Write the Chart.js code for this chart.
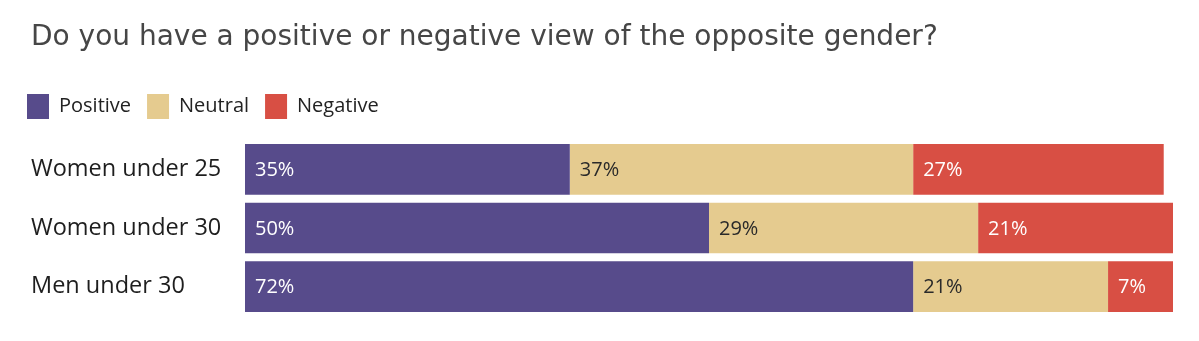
<!DOCTYPE html>
<html>
<head>
<meta charset="utf-8">
<script src="https://cdn.jsdelivr.net/npm/chart.js@4"></script>
<style>
  html, body { margin: 0; padding: 0; background: #fff; }
  #wrap { width: 1199px; height: 341px; position: relative; }
</style>
</head>
<body>
<div id="wrap"><canvas id="chart" width="1199" height="341"></canvas></div>
<script>
const groups = ["Women under 25", "Women under 30", "Men under 30"];
const positive = [35, 50, 72];
const neutral = [37, 29, 21];
const negative = [27, 21, 7];

const FONT = "'Open Sans', 'Noto Sans', sans-serif";

// percentage text at the left end of each segment
const segmentLabels = {
  id: "segmentLabels",
  afterDatasetsDraw(chart) {
    const ctx = chart.ctx;
    ctx.save();
    ctx.font = "20px " + FONT;
    ctx.textBaseline = "middle";
    ctx.textAlign = "left";
    chart.data.datasets.forEach((ds, i) => {
      const meta = chart.getDatasetMeta(i);
      meta.data.forEach((bar, j) => {
        ctx.fillStyle = ds.labelColor;
        ctx.fillText(ds.data[j] + "%", bar.base + 10, bar.y + 1);
      });
    });
    ctx.restore();
  }
};

// legend sits a bit left of the axis labels in the original
const legendNudge = {
  id: "legendNudge",
  afterLayout(chart) {
    chart.legend.left -= 20;
    chart.legend.right -= 20;
  }
};

new Chart(document.getElementById("chart"), {
  type: "bar",
  data: {
    labels: groups,
    datasets: [
      { label: "Positive", data: positive, backgroundColor: "#574b8b", labelColor: "#ffffff" },
      { label: "Neutral", data: neutral, backgroundColor: "#e5cb8f", labelColor: "#2a2a2a" },
      { label: "Negative", data: negative, backgroundColor: "#d84f44", labelColor: "#ffffff" }
    ]
  },
  options: {
    indexAxis: "y",
    responsive: false,
    animation: false,
    barPercentage: 0.865,
    categoryPercentage: 1,
    layout: { padding: { left: 31, right: 26, bottom: 25, top: 0 } },
    plugins: {
      title: {
        display: true,
        text: "Do you have a positive or negative view of the opposite gender?",
        align: "start",
        color: "#464646",
        font: { family: "'DejaVu Sans', sans-serif", size: 28, weight: "normal", lineHeight: 1.2 },
        padding: { top: 21, bottom: 23.4 }
      },
      legend: {
        position: "top",
        align: "start",
        labels: {
          boxWidth: 22,
          boxHeight: 25,
          padding: 16,
          color: "#222",
          font: { family: FONT, size: 20 }
        }
      },
      tooltip: { enabled: false }
    },
    scales: {
      x: {
        stacked: true,
        min: 0,
        max: 100,
        position: "top",
        ticks: { display: false },
        grid: { display: false },
        border: { display: false },
        afterFit(scale) { scale.height = 11; }
      },
      y: {
        stacked: true,
        grid: { display: false },
        border: { display: false },
        ticks: {
          crossAlign: "far",
          color: "#1e1e1e",
          font: { family: FONT, size: 23.5 }
        },
        afterFit(scale) { scale.width = 214; }
      }
    }
  },
  plugins: [segmentLabels, legendNudge]
});
</script>
</body>
</html>
